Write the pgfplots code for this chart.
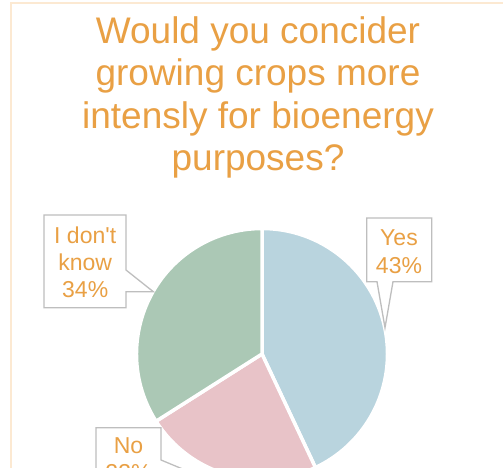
\documentclass[border=0pt]{standalone}
\usepackage{pgfplots}
\pgfplotsset{compat=1.18}
\usepackage{pgfplotstable}
\usepackage{fontspec}
\setmainfont{Liberation Sans}[Ligatures=TeXOff]
\definecolor{ttl}{RGB}{233,160,68}
\definecolor{frame}{RGB}{252,233,210}
\definecolor{cyes}{RGB}{185,212,222}
\definecolor{cno}{RGB}{232,195,200}
\definecolor{cidk}{RGB}{171,200,181}
\definecolor{boxgray}{RGB}{190,190,190}
\pgfplotstableread{
label value
Yes 43
No 23
IDK 34
}\piedata
\begin{document}
\begin{tikzpicture}[x=1pt,y=1pt]
\path[use as bounding box, clip] (0,0) rectangle (503,468);
\fill[white] (0,0) rectangle (503,468);
\draw[frame, line width=2pt] (11,-5) -- (11,464.5) -- (510,464.5);
% title
\begin{scope}[every node/.style={text=ttl, font=\fontsize{37}{42}\selectfont, anchor=base, inner sep=0pt}]
\node at (258,468-43.3) {Would you concider};
\node at (258,468-85.5) {growing crops more};
\node at (258,468-128.5) {intensly for bioenergy};
\node at (258,468-170.7) {purposes?};
\end{scope}
% angles from data
\pgfplotstablegetelem{0}{value}\of\piedata \pgfmathsetmacro{\vA}{\pgfplotsretval}
\pgfplotstablegetelem{1}{value}\of\piedata \pgfmathsetmacro{\vB}{\pgfplotsretval}
\pgfplotstablegetelem{2}{value}\of\piedata \pgfmathsetmacro{\vC}{\pgfplotsretval}
\pgfmathsetmacro{\aA}{90}
\pgfmathsetmacro{\aB}{90-3.6*\vA}
\pgfmathsetmacro{\aC}{\aB-3.6*\vB}
\pgfmathsetmacro{\aD}{\aC-3.6*\vC}
\begin{axis}[at={(262pt,114pt)}, anchor=origin, x=1pt, y=1pt,
  xmin=-130, xmax=130, ymin=-130, ymax=130, hide axis, clip=false]
\fill[cyes, draw=white, line width=3.5pt, line join=round] (axis cs:0,0) -- ++(\aA:125.5pt) arc[start angle=\aA, end angle=\aB, radius=125.5pt] -- cycle;
\fill[cno, draw=white, line width=3.5pt, line join=round] (axis cs:0,0) -- ++(\aB:125.5pt) arc[start angle=\aB, end angle=\aC, radius=125.5pt] -- cycle;
\fill[cidk, draw=white, line width=3.5pt, line join=round] (axis cs:0,0) -- ++(\aC:125.5pt) arc[start angle=\aC, end angle=\aD, radius=125.5pt] -- cycle;
\end{axis}
% callouts
\draw[boxgray, line width=1.3pt, fill=white] (366.7,468-218) -- (431.7,468-218) -- (431.7,468-281.7) -- (393,468-281.7) -- (385,468-327.7) -- (377,468-281.7) -- (366.7,468-281.7) -- cycle;
\draw[boxgray, line width=1.3pt, fill=white] (44,468-215) -- (126,468-215) -- (126,468-270) -- (153.3,468-291.7) -- (126,468-291.7) -- (126,468-307.7) -- (44,468-307.7) -- cycle;
\draw[boxgray, line width=1.3pt, fill=white] (96,468-427.7) -- (161,468-427.7) -- (161,468-460) -- (185,468-470) -- (161,468-475) -- (161,468-520) -- (96,468-520) -- cycle;
\begin{scope}[every node/.style={text=ttl, font=\fontsize{23}{27}\selectfont, anchor=base, inner sep=0pt}]
\node at (399,468-245.7) {Yes};
\node at (399,468-273.3) {43\%};
\node at (85.2,468-243.3) {I don't};
\node at (85.2,468-271) {know};
\node at (85.2,468-297.7) {34\%};
\node at (128.5,468-454) {No};
\node at (128.5,468-481) {23\%};
\end{scope}
\end{tikzpicture}
\end{document}
